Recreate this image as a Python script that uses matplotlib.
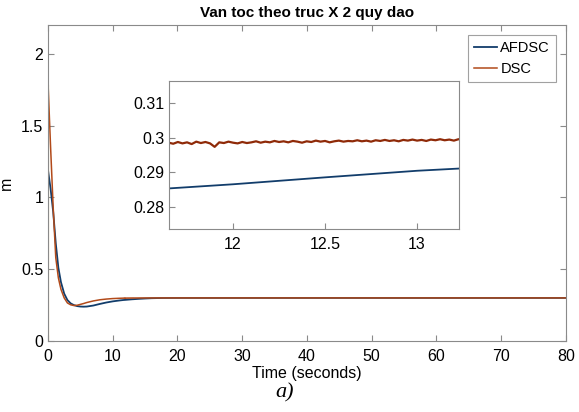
import numpy as np
import matplotlib
matplotlib.use('Agg')
import matplotlib.pyplot as plt

plt.rcParams['font.family'] = ['Liberation Sans', 'DejaVu Sans']

# --- data ---
# early transient (0 .. 11.6 s)
t_early = [0, 0, 0.4, 0.8, 1.2, 1.6, 2, 2.5, 3, 3.5, 4, 4.5, 5, 5.5, 6, 7, 8, 9, 10, 11, 11.6]
dsc_early = [0, 1.8, 1.35, 0.93, 0.58, 0.44, 0.36, 0.3, 0.265, 0.252, 0.247, 0.249, 0.255,
             0.261, 0.268, 0.279, 0.287, 0.292, 0.2955, 0.2975, 0.2984]
afdsc_early = [0, 1.19, 1.06, 0.9, 0.68, 0.51, 0.41, 0.33, 0.285, 0.262, 0.25, 0.243, 0.24,
               0.239, 0.24, 0.247, 0.258, 0.268, 0.276, 0.282, 0.2852]

# zoomed window (11.65 .. 13.25 s), DSC is noisy here
dsc_zoom = [0.2986, 0.2983, 0.2988, 0.2984, 0.2987, 0.2982, 0.2989, 0.2985, 0.2988, 0.2984,
            0.2974, 0.2987, 0.2985, 0.2989, 0.2986, 0.2984, 0.2988, 0.2985, 0.2987, 0.2990,
            0.2986, 0.2989, 0.2987, 0.2991, 0.2988, 0.2990, 0.2987, 0.2991, 0.2989, 0.2986,
            0.2990, 0.2988, 0.2992, 0.2989, 0.2991, 0.2987, 0.2990, 0.2992, 0.2989, 0.2991,
            0.2990, 0.2993, 0.2990, 0.2992, 0.2989, 0.2993, 0.2991, 0.2994, 0.2991, 0.2993,
            0.2990, 0.2994, 0.2992, 0.2995, 0.2992, 0.2994, 0.2991, 0.2995, 0.2993, 0.2996,
            0.2993, 0.2995, 0.2992, 0.2996, 0.2994]
t_zoom_afdsc = [11.65, 12.0, 12.5, 13.0, 13.25]
afdsc_zoom = [0.2854, 0.2866, 0.2886, 0.2905, 0.2912]

# settling (after 13.25 s)
t_late = [14, 15, 16, 17, 18, 20, 30, 40, 50, 60, 70, 80]
dsc_late = [0.2996, 0.2997, 0.2998, 0.2999, 0.2999, 0.3, 0.3, 0.3, 0.3, 0.3, 0.3, 0.3]
afdsc_late = [0.2935, 0.296, 0.298, 0.299, 0.2996, 0.3, 0.3, 0.3, 0.3, 0.3, 0.3, 0.3]

t_zoom_dsc = np.linspace(11.65, 13.25, len(dsc_zoom))
t_dsc = np.concatenate([t_early, t_zoom_dsc, t_late])
dsc = np.concatenate([dsc_early, dsc_zoom, dsc_late])
t_afdsc = np.concatenate([t_early[1:], t_zoom_afdsc, t_late])
afdsc = np.concatenate([afdsc_early[1:], afdsc_zoom, afdsc_late])

blue = '#123d6b'
red = '#b24a1a'
gray = '#8a8a8a'

fig = plt.figure(figsize=(5.79, 4.12), dpi=100)
ax = fig.add_axes([0.0829, 0.1723, 0.8946, 0.767])
ax.plot(t_afdsc, afdsc, color=blue, lw=1.3, label='AFDSC')
ax.plot(t_dsc, dsc, color=red, lw=1.1, label='DSC')
ax.plot([0, 0], [0, 1.78], color='#e0b030', lw=0.8)
ax.set_xlim(0, 80)
ax.set_ylim(0, 2.2)
ax.set_xticks(range(0, 81, 10))
ax.set_yticks([0, 0.5, 1, 1.5, 2])
ax.set_yticklabels(['0', '0.5', '1', '1.5', '2'])
ax.tick_params(direction='in', top=True, right=True, labelsize=11.5, color=gray, length=4)
ax.tick_params(axis='x', pad=6)
for s in ax.spines.values():
    s.set_color(gray)
ax.set_xlabel('Time (seconds)', fontsize=11.5, labelpad=1)
ax.set_ylabel('m', fontsize=11.5)
ax.yaxis.set_label_coords(-0.066, 0.5)
ax.set_title('Van toc theo truc X 2 quy dao', fontsize=11, fontweight='bold', pad=6)
leg = ax.legend(loc='upper right', fontsize=10.5, fancybox=False, edgecolor=gray,
                handlelength=1.6, handletextpad=0.2, borderaxespad=0.7, labelspacing=0.5)
leg.get_frame().set_linewidth(0.8)

ins = fig.add_axes([0.2919, 0.4442, 0.5009, 0.3592])
ins.plot(t_afdsc, afdsc, color=blue, lw=1.3)
ins.plot(t_dsc, dsc, color='#8f2a08', lw=1.6)
ins.set_xlim(11.652, 13.228)
ins.set_ylim(0.2737, 0.3164)
ins.set_xticks([12, 12.5, 13])
ins.set_xticklabels(['12', '12.5', '13'])
ins.set_yticks([0.28, 0.29, 0.3, 0.31])
ins.set_yticklabels(['0.28', '0.29', '0.3', '0.31'])
ins.tick_params(direction='in', labelsize=11.5, color=gray, length=4)
ins.tick_params(axis='x', pad=6)
for s in ins.spines.values():
    s.set_color(gray)

fig.text(0.492, 0.046, 'a)', fontsize=16, style='italic', family='Liberation Serif',
         ha='center', va='center')

fig.savefig('out.png', dpi=100)
